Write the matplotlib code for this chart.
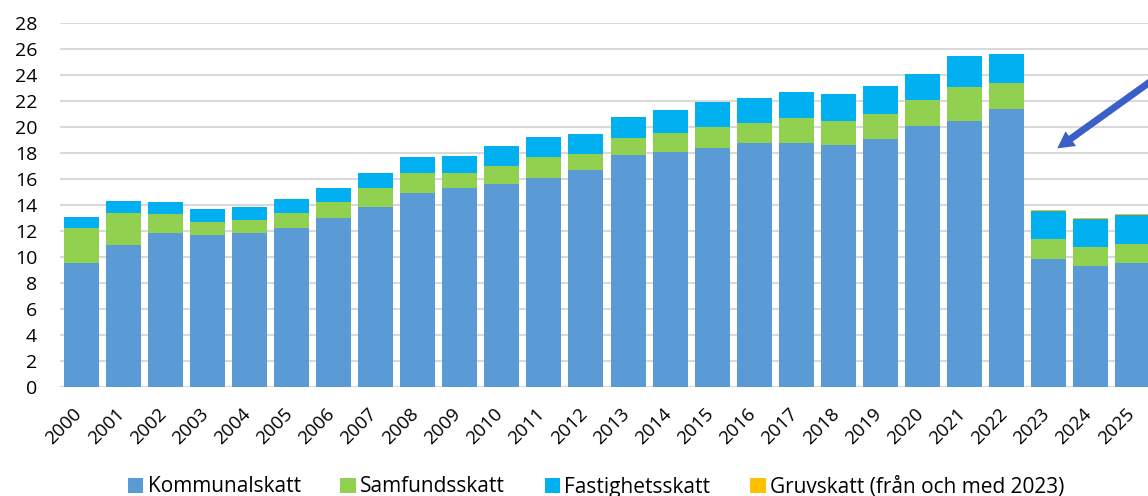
import matplotlib
matplotlib.use('Agg')
import matplotlib.pyplot as plt
import matplotlib.transforms as mtransforms
import numpy as np

# Skatteintäkter per år
ar = [str(a) for a in range(2000, 2026)]
kommunalskatt = [9.54, 10.90, 11.82, 11.69, 11.80, 12.21, 12.98, 13.82, 14.92, 15.31,
                 15.62, 16.05, 16.67, 17.80, 18.03, 18.38, 18.72, 18.77, 18.59, 19.08,
                 20.08, 20.46, 21.33, 9.85, 9.31, 9.49]
samfundsskatt = [2.64, 2.48, 1.49, 1.00, 1.05, 1.17, 1.25, 1.46, 1.52, 1.15,
                 1.38, 1.64, 1.23, 1.30, 1.46, 1.62, 1.56, 1.90, 1.85, 1.90,
                 1.97, 2.59, 2.00, 1.48, 1.41, 1.49]
fastighetsskatt = [0.85, 0.88, 0.90, 0.95, 0.97, 1.03, 1.08, 1.13, 1.23, 1.29,
                   1.49, 1.52, 1.54, 1.67, 1.79, 1.88, 1.95, 2.00, 2.10, 2.15,
                   2.03, 2.39, 2.29, 2.21, 2.20, 2.25]
gruvskatt = [0.0] * 23 + [0.07, 0.07, 0.07]

serier = [
    ("Kommunalskatt", kommunalskatt, "#5B9BD5"),
    ("Samfundsskatt", samfundsskatt, "#92D050"),
    ("Fastighetsskatt", fastighetsskatt, "#00B0F0"),
    ("Gruvskatt (från och med 2023)", gruvskatt, "#FFC000"),
]

plt.rcParams['font.family'] = ['Open Sans', 'DejaVu Sans']

W, H = 1148, 496
fig = plt.figure(figsize=(W / 100, H / 100), dpi=100)
# axeln går lite utanför bilden till höger (beskuren i originalet)
ax = fig.add_axes([60 / W, (H - 386.7) / H, (1154 - 60) / W, 364 / H])

x = np.arange(len(ar))
botten = np.zeros(len(ar))
for namn, v, farg in serier:
    v = np.array(v)
    ax.bar(x, v, bottom=botten, width=0.83, color=farg, label=namn, zorder=3)
    botten = botten + v

ax.set_xlim(-0.5, len(ar) - 0.5)
ax.set_ylim(0, 28)
ax.set_yticks(range(0, 29, 2))
ax.grid(axis='y', color='#D9D9D9', linewidth=1.5, zorder=0)
ax.set_axisbelow(True)
for s in ax.spines.values():
    s.set_visible(False)
ax.tick_params(axis='both', length=0, labelsize=14, colors='black')
ax.tick_params(axis='y', pad=16.5)
ax.set_xticks(x)
ax.set_xticklabels(ar, rotation=45, ha='right', rotation_mode='anchor', fontsize=13.5)
ax.tick_params(axis='x', pad=13)
skift = mtransforms.ScaledTranslation(-8 / 100, 0, fig.dpi_scale_trans)
for lbl in ax.get_xticklabels():
    lbl.set_transform(lbl.get_transform() + skift)

# pilen uppe till höger
ax.annotate("", xy=(1055, H - 150), xycoords='figure pixels',
            xytext=(1175, H - 64), textcoords='figure pixels',
            arrowprops=dict(arrowstyle='simple,head_length=1.2,head_width=1.3,tail_width=0.5',
                            color='#3A5FC8', lw=0))

fig.legend(loc='center', bbox_to_anchor=(596 / W, 9 / H), ncol=4,
           frameon=False, fontsize=15, handlelength=0.75, handleheight=0.75,
           handletextpad=0.2, columnspacing=1.9, borderaxespad=0)

fig.savefig('out.png', dpi=100)
